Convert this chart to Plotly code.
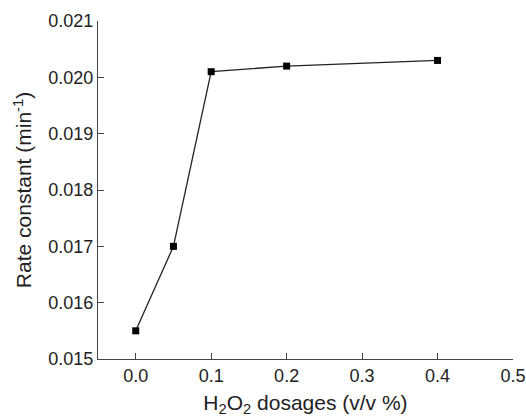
import plotly.graph_objects as go

dosage = [0.0, 0.05, 0.1, 0.2, 0.4]
rate = [0.0155, 0.0170, 0.0201, 0.0202, 0.0203]
x_ticks = [0.0, 0.1, 0.2, 0.3, 0.4, 0.5]
x_labels = ["0.0", "0.1", "0.2", "0.3", "0.4", "0.5"]
y_ticks = [0.015, 0.016, 0.017, 0.018, 0.019, 0.020, 0.021]
y_labels = ["0.015", "0.016", "0.017", "0.018", "0.019", "0.020", "0.021"]

fig = go.Figure()
fig.add_trace(go.Scatter(
    x=dosage, y=rate, mode="lines+markers",
    line=dict(color="#222222", width=1.3),
    marker=dict(symbol="square", size=7, color="#000000"),
    showlegend=False, cliponaxis=False,
))

font = dict(family="Liberation Sans, Arial, sans-serif", size=18, color="#222222")
fig.update_layout(
    width=526, height=418,
    margin=dict(l=98, r=13, t=21, b=59),
    paper_bgcolor="white", plot_bgcolor="white",
    font=font,
    xaxis=dict(
        range=[-0.05, 0.5], tickvals=x_ticks, ticktext=x_labels,
        showline=True, linecolor="#444444", linewidth=1.3,
        ticks="inside", ticklen=6, tickcolor="#444444", tickwidth=1.2,
        showgrid=False, zeroline=False, automargin=False,
        title=dict(text="H<sub>2</sub>O<sub>2</sub> dosages (v/v %)", font=dict(size=21), standoff=10),
    ),
    yaxis=dict(
        range=[0.015, 0.021], tickvals=y_ticks, ticktext=y_labels,
        showline=True, linecolor="#444444", linewidth=1.3,
        ticks="inside", ticklen=6, tickcolor="#444444", tickwidth=1.2,
        showgrid=False, zeroline=False, automargin=False,
        title=dict(text="Rate constant (min<sup>-1</sup>)", font=dict(size=21), standoff=10),
    ),
)
fig.write_html("out.html")
